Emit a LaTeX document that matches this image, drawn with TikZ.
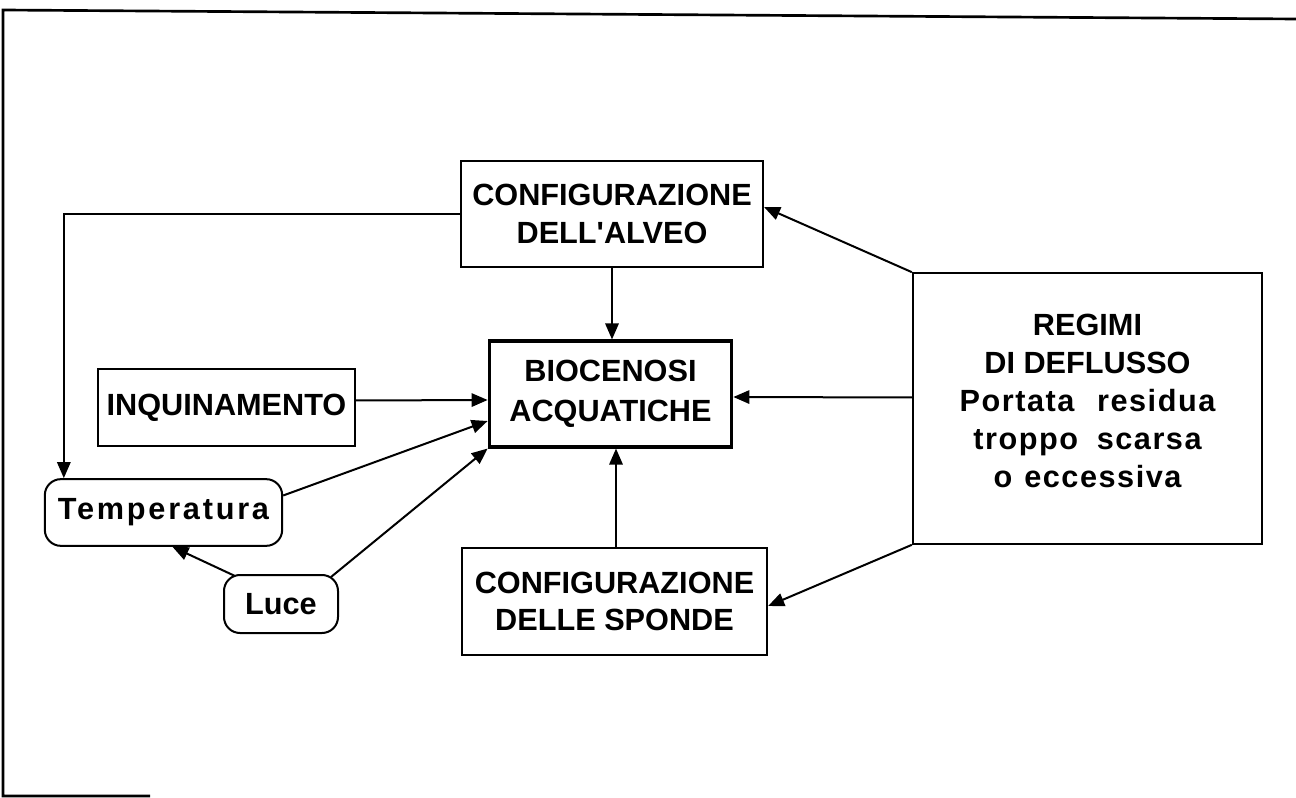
\documentclass[tikz,border=0pt]{standalone}
\usepackage{fontspec}
\setmainfont{Liberation Sans}[Ligatures=TeXOff]
\usetikzlibrary{arrows.meta,calc}
\begin{document}
\begin{tikzpicture}[x=0.75pt,y=-0.75pt,
        box/.style={draw,line width=1.5pt,inner sep=0pt,align=center,
            font=\fontsize{23}{28}\selectfont\bfseries},
        rbox/.style={box,rounded corners=12pt},
        arr/.style={line width=1.5pt,-{Triangle[length=12pt,width=10pt]}}]
    \useasboundingbox (0,0) rectangle (1296,798);
    % frame of the scanned page
    \draw[line width=2pt] (150,796) -- (3,796) -- (3,10) -- (1296,19);
    % boxes
    \node[box,minimum width=226.5pt,minimum height=79.5pt] (alveo) at (612,214)
        {CONFIGURAZIONE\\DELL'ALVEO};
    \node[box,line width=2.3pt,minimum width=182pt,minimum height=79.5pt,
        font=\fontsize{23}{30}\selectfont\bfseries] (bio) at (610.5,394)
        {BIOCENOSI\\ACQUATICHE};
    \node[box,minimum width=193pt,minimum height=58pt] (inq) at (226.5,407.5)
        {INQUINAMENTO};
    \node[rbox,minimum width=178pt,minimum height=50pt] (temp) at (163.5,512.5)
        {\addfontfeature{LetterSpace=9}Temperatura};
    \node[box,minimum width=262pt,minimum height=203pt,text depth=12pt,
        font=\fontsize{23}{28.5}\selectfont\bfseries] (regimi) at (1087.5,408.5)
        {REGIMI\\DI DEFLUSSO\\
         {\addfontfeature{LetterSpace=5}Portata\hspace*{17pt}residua}\\
         {\addfontfeature{LetterSpace=5}troppo\hspace*{14pt}scarsa}\\
         {\addfontfeature{LetterSpace=5}o\hspace*{9pt}eccessiva}};
    \node[rbox,minimum width=85.5pt,minimum height=43.5pt] (luce) at (281,604)
        {Luce};
    \node[box,minimum width=229pt,minimum height=80pt] (sponde) at (614.5,601.5)
        {CONFIGURAZIONE\\DELLE SPONDE};
    \coordinate (sp) at ($(sponde.north)+(1.5,0)$);
    % connectors
    \draw[arr] (alveo.west) -| ($(temp.north west)+(20,0)$);
    \draw[arr] (alveo.south) -- (alveo.south |- bio.north);
    \draw[arr] ($(inq.east)+(0,-7)$) -- ($(bio.west)+(0,6)$);
    \draw[arr] ($(temp.east)+(0,-17)$) -- ($(bio.west)+(0,27)$);
    \draw[arr] ($(luce.north east)+(-8,3)$) -- (bio.south west);
    \draw[arr] ($(luce.north west)+(12,2)$) -- ($(temp.south)+(9,0)$);
    \draw[arr] ($(regimi.west)+(0,-11)$) -- ($(bio.east)+(0,3)$);
    \draw[arr] (regimi.north west) -- ($(alveo.east)+(0,-7)$);
    \draw[arr] (regimi.south west) -- ($(sponde.east)+(0,4.5)$);
    \draw[arr] (sp) -- (sp |- bio.south);
\end{tikzpicture}
\end{document}
